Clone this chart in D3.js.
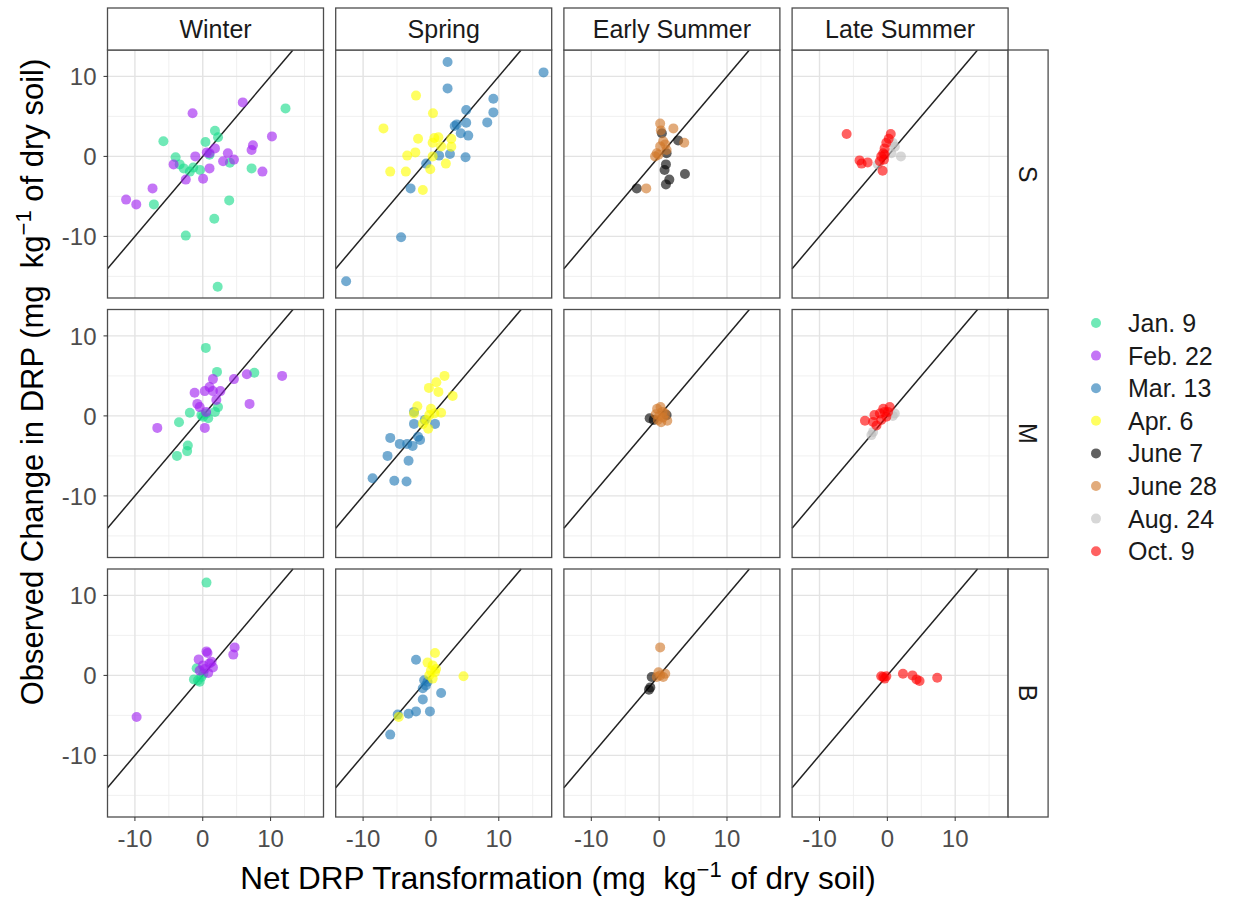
<!DOCTYPE html>
<html><head><meta charset="utf-8">
<script src="https://cdn.jsdelivr.net/npm/d3@7"></script>
<style>body{margin:0;background:#fff}svg{display:block}</style>
</head><body><svg id="c" width="1239" height="898"></svg>
<script>
const seasons = ["Winter", "Spring", "Early Summer", "Late Summer"];
const sites = ["S", "M", "B"];
const dates = ["Jan. 9", "Feb. 22", "Mar. 13", "Apr. 6", "June 7", "June 28", "Aug. 24", "Oct. 9"];
const dateSeason = ["Winter", "Winter", "Spring", "Spring", "Early Summer", "Early Summer", "Late Summer", "Late Summer"];
const dateColors = ["#19DB8A", "#A020F0", "#1F78B4", "#FFFF00", "#000000", "#D0782A", "#BEBEBE", "#FF0000"];
const xTicks = [-10, 0, 10];
const yTicks = [-10, 0, 10];
const xMinor = [-5, 5, 15];
const yMinor = [-15, -5, 5];
const xDomain = [-14.04, 17.8];
const yDomain = [-17.7, 13.3];

// [site, net transformation, observed change]
const jan9 = [
  ["S",12.2,6.0],["S",1.8,3.2],["S",2.25,2.4],["S",-5.8,1.9],["S",0.4,1.8],["S",-4.0,-0.1],["S",-3.4,-1.0],
  ["S",-2.8,-1.5],["S",-1.4,-1.4],["S",-0.4,-1.7],["S",1.0,0.2],["S",4.0,-0.8],["S",7.2,-1.5],["S",-7.2,-6.0],
  ["S",3.9,-5.5],["S",1.7,-7.8],["S",-2.5,-9.9],["S",2.2,-16.3],["S",-1.9,-1.9],
  ["M",0.45,8.5],["M",7.6,5.4],["M",2.1,5.5],["M",2.25,1.1],["M",1.8,0.5],["M",-1.9,0.4],["M",0.05,-0.1],
  ["M",0.8,-0.3],["M",-3.5,-0.8],["M",-2.2,-3.7],["M",-2.3,-4.4],["M",-3.8,-5.0],["M",-0.2,0.1],["M",0.5,0.3],
  ["B",0.55,11.6],["B",-1.3,-0.5],["B",-0.7,-0.6],["B",-0.45,-0.8],["B",-0.9,0.9],["B",-0.2,-0.2],["B",0.1,0.2]
];
const feb22 = [
  ["S",5.9,6.75],["S",-1.5,5.4],["S",10.2,2.5],["S",7.4,1.4],["S",7.2,0.8],["S",1.8,1.0],["S",0.6,0.5],
  ["S",1.0,0.4],["S",3.7,0.4],["S",-1.1,0.0],["S",3.0,-0.6],["S",4.6,-0.4],["S",-4.3,-1.0],["S",1.0,-1.5],
  ["S",8.8,-1.9],["S",-2.5,-2.9],["S",0.05,-2.8],["S",-7.4,-4.0],["S",-11.3,-5.4],["S",-9.8,-6.0],
  ["M",11.7,5.0],["M",6.5,5.2],["M",4.6,4.6],["M",1.5,4.6],["M",1.0,3.6],["M",-1.2,2.9],["M",0.3,3.1],
  ["M",1.5,3.1],["M",2.6,3.1],["M",2.0,2.0],["M",-0.8,1.5],["M",-0.45,1.1],["M",0.5,0.5],["M",6.9,1.5],
  ["M",-6.7,-1.5],["M",0.3,-1.5],
  ["B",4.7,3.5],["B",4.5,2.6],["B",0.55,3.0],["B",0.7,2.8],["B",-0.6,2.0],["B",1.0,1.5],["B",1.5,1.0],
  ["B",0.3,0.8],["B",0.8,0.3],["B",-0.45,0.6],["B",-9.75,-5.2],["B",1.3,1.7],["B",0.05,1.25]
];
const mar13 = [
  ["S",2.45,11.8],["S",16.6,10.5],["S",2.45,8.5],["S",9.2,7.2],["S",9.2,5.5],["S",5.2,5.8],["S",8.3,4.25],
  ["S",5.2,4.2],["S",3.8,4.0],["S",3.5,3.8],["S",4.4,2.9],["S",5.5,2.6],["S",2.8,0.3],["S",1.2,0.1],
  ["S",5.1,-0.1],["S",-0.7,-0.9],["S",-3.0,-4.0],["S",-4.4,-10.1],["S",-12.5,-15.6],
  ["M",-2.5,0.5],["M",-2.5,-1.0],["M",-0.9,-0.5],["M",0.6,-1.0],["M",-6.0,-2.75],["M",-1.9,-2.6],["M",-4.6,-3.5],
  ["M",-3.5,-3.5],["M",-2.7,-3.75],["M",-1.6,-3.0],["M",-6.4,-5.0],["M",-3.3,-5.6],["M",-8.6,-7.8],["M",-5.4,-8.1],
  ["M",-3.6,-8.2],
  ["B",-2.2,1.96],["B",-1.0,-0.6],["B",-1.2,-1.6],["B",-0.75,-1.25],["B",1.5,-2.2],["B",-1.2,-3.0],["B",-2.2,-4.5],
  ["B",-3.3,-4.8],["B",-0.15,-4.5],["B",-4.9,-4.9],["B",-6.0,-7.4],["B",-0.5,-0.8]
];
const apr6 = [
  ["S",-2.2,7.6],["S",0.3,5.4],["S",-7.0,3.5],["S",-1.9,2.2],["S",0.5,2.3],["S",1.1,2.4],["S",0.25,1.7],
  ["S",1.5,1.25],["S",3.0,2.2],["S",3.0,1.2],["S",-2.3,0.5],["S",-3.5,0.1],["S",0.25,0.0],["S",2.2,-0.9],
  ["S",-6.0,-1.9],["S",-3.7,-1.9],["S",-0.1,-1.6],["S",-1.2,-4.2],
  ["M",2.0,5.0],["M",0.8,4.2],["M",-0.3,3.5],["M",1.1,3.0],["M",3.2,2.5],["M",-2.0,1.2],["M",0.0,0.9],
  ["M",1.5,0.4],["M",-0.25,0.1],["M",-0.7,-0.5],["M",-1.2,-1.0],["M",-0.4,-1.6],["M",0.5,0.3],["M",-2.5,0.3],
  ["B",0.6,2.8],["B",-0.5,1.6],["B",0.25,1.25],["B",0.0,0.6],["B",0.6,0.4],["B",-0.25,0.0],["B",0.25,-0.4],
  ["B",4.8,-0.1],["B",-4.75,-5.2],["B",0.75,0.8]
];
const june7 = [
  ["S",2.8,2.0],["S",1.0,-1.0],["S",0.8,-1.7],["S",3.8,-2.2],["S",1.5,-2.9],["S",1.0,-3.5],["S",-3.3,-4.0],
  ["S",0.4,2.9],["S",1.1,0.4],
  ["M",-1.4,-0.3],["M",1.1,0.1],["M",-0.8,-0.5],
  ["B",-1.1,-0.2],["B",-1.5,-1.8],["B",-1.3,-1.5]
];
const june28 = [
  ["S",0.15,4.1],["S",0.25,3.25],["S",2.1,3.5],["S",3.7,1.7],["S",0.6,1.9],["S",0.15,1.25],["S",-0.35,0.4],
  ["S",-0.6,0.0],["S",1.1,0.8],["S",-1.9,-4.0],["S",-0.1,0.2],["S",0.9,1.5],
  ["M",-0.3,0.9],["M",0.2,1.1],["M",0.5,0.5],["M",0.0,0.0],["M",-0.2,-0.5],["M",0.3,-0.8],["M",1.2,-0.6],
  ["M",0.9,0.3],["M",-0.5,0.2],["M",0.6,-0.2],
  ["B",0.15,3.5],["B",0.15,0.0],["B",-0.1,0.4],["B",0.6,-0.2],["B",-0.35,-0.2],["B",0.9,0.2]
];
const aug24 = [
  ["S",2.0,0.0],["S",1.1,1.2],["S",0.8,1.7],["S",-1.4,-1.0],["S",0.6,0.4],
  ["M",-2.35,-2.4],["M",0.8,0.0],["M",-2.1,-2.0],["M",1.1,0.3]
];
const oct9 = [
  ["S",-6.0,2.8],["S",-4.1,-0.5],["S",-3.8,-0.9],["S",-2.9,-0.75],["S",0.5,2.8],["S",0.2,2.2],["S",-0.15,1.7],
  ["S",-0.4,1.0],["S",-0.6,0.4],["S",-0.9,0.0],["S",-0.5,-0.4],["S",-1.1,-0.6],["S",-0.7,-1.8],["S",-0.4,0.2],
  ["M",-3.3,-0.6],["M",-1.9,0.1],["M",-1.1,0.3],["M",0.35,1.1],["M",-0.4,0.5],["M",-1.6,-1.2],["M",-0.9,-0.5],
  ["M",-0.15,-0.1],["M",-2.1,-0.75],["M",0.1,0.5],["M",-0.6,0.9],
  ["B",-0.6,-0.2],["B",-0.15,-0.1],["B",-0.9,-0.1],["B",-0.4,-0.4],["B",2.3,0.2],["B",3.7,0.0],["B",4.3,-0.5],
  ["B",4.75,-0.7],["B",7.35,-0.3]
];
const seriesByDate = [jan9, feb22, mar13, apr6, june7, june28, aug24, oct9];

const svg = d3.select("#c");
const font = "'Liberation Sans', Arial, Helvetica, sans-serif";
const panelW = 216, panelH = 248;
const colX = d3.scalePoint().domain(seasons).range([107.5, 107.5 + 3 * 228.2]);
const rowY = d3.scalePoint().domain(sites).range([50, 50 + 2 * 259.5]);
const x = d3.scaleLinear().domain(xDomain).range([0, panelW]);
const y = d3.scaleLinear().domain(yDomain).range([panelH, 0]);
const color = d3.scaleOrdinal().domain(dates).range(dateColors);
const borderCol = "#4d4d4d";

seasons.forEach((s, ci) => {
  sites.forEach((site, ri) => {
    const g = svg.append("g").attr("transform", `translate(${colX(s)},${rowY(site)})`);
    g.append("rect").attr("width", panelW).attr("height", panelH).attr("fill", "#fff");
    g.selectAll(".mx").data(xMinor).join("line")
      .attr("x1", d => x(d)).attr("x2", d => x(d)).attr("y1", 0).attr("y2", panelH)
      .attr("stroke", "#eeeeee").attr("stroke-width", 0.9);
    g.selectAll(".my").data(yMinor).join("line")
      .attr("y1", d => y(d)).attr("y2", d => y(d)).attr("x1", 0).attr("x2", panelW)
      .attr("stroke", "#eeeeee").attr("stroke-width", 0.9);
    g.selectAll(".gx").data(xTicks).join("line")
      .attr("x1", d => x(d)).attr("x2", d => x(d)).attr("y1", 0).attr("y2", panelH)
      .attr("stroke", "#e3e3e3").attr("stroke-width", 1.4);
    g.selectAll(".gy").data(yTicks).join("line")
      .attr("y1", d => y(d)).attr("y2", d => y(d)).attr("x1", 0).attr("x2", panelW)
      .attr("stroke", "#e3e3e3").attr("stroke-width", 1.4);
    const lo = Math.max(xDomain[0], yDomain[0]), hi = Math.min(xDomain[1], yDomain[1]);
    g.append("line").attr("x1", x(lo)).attr("y1", y(lo)).attr("x2", x(hi)).attr("y2", y(hi))
      .attr("stroke", "#222").attr("stroke-width", 1.5);
    dates.forEach((d, di) => {
      if (dateSeason[di] !== s) return;
      const pts = seriesByDate[di].filter(p => p[0] === site);
      g.selectAll(null).data(pts).join("circle")
        .attr("cx", p => x(p[1])).attr("cy", p => y(p[2])).attr("r", 5)
        .attr("fill", color(d)).attr("fill-opacity", 0.62);
    });
    g.append("rect").attr("width", panelW).attr("height", panelH)
      .attr("fill", "none").attr("stroke", borderCol).attr("stroke-width", 1.3);
    if (ci === 0) {
      yTicks.forEach(t => {
        g.append("line").attr("x1", -4).attr("x2", 0).attr("y1", y(t)).attr("y2", y(t)).attr("stroke", "#333").attr("stroke-width", 1);
        g.append("text").attr("x", -11).attr("y", y(t)).attr("dy", "0.36em").attr("text-anchor", "end")
          .attr("font-family", font).attr("font-size", 24).attr("fill", "#4d4d4d").text(t);
      });
    }
    if (ri === sites.length - 1) {
      xTicks.forEach(t => {
        g.append("line").attr("y1", panelH).attr("y2", panelH + 4).attr("x1", x(t)).attr("x2", x(t)).attr("stroke", "#333").attr("stroke-width", 1);
        g.append("text").attr("x", x(t)).attr("y", panelH + 30).attr("text-anchor", "middle")
          .attr("font-family", font).attr("font-size", 24).attr("fill", "#4d4d4d").text(t);
      });
    }
    if (ri === 0) {
      g.append("rect").attr("x", 0).attr("y", -42).attr("width", panelW).attr("height", 42)
        .attr("fill", "#fff").attr("stroke", borderCol).attr("stroke-width", 1.3);
      g.append("text").attr("x", panelW / 2).attr("y", -21).attr("dy", "0.36em").attr("text-anchor", "middle")
        .attr("font-family", font).attr("font-size", 25).attr("fill", "#1a1a1a").text(s);
    }
    if (ci === seasons.length - 1) {
      g.append("rect").attr("x", panelW).attr("y", 0).attr("width", 40).attr("height", panelH)
        .attr("fill", "#fff").attr("stroke", borderCol).attr("stroke-width", 1.3);
      g.append("text").attr("transform", `translate(${panelW + 20},${panelH / 2}) rotate(90)`)
        .attr("dy", "0.36em").attr("text-anchor", "middle")
        .attr("font-family", font).attr("font-size", 25).attr("fill", "#1a1a1a").text(site);
    }
  });
});

const xt = svg.append("text").attr("x", 558).attr("y", 889).attr("text-anchor", "middle")
  .attr("font-family", font).attr("font-size", 31.5).attr("fill", "#000");
xt.append("tspan").text("Net DRP Transformation (mg\u00a0 kg");
xt.append("tspan").attr("dy", -12).attr("font-size", 22).text("\u22121");
xt.append("tspan").attr("dy", 12).text(" of dry soil)");

const yt = svg.append("text").attr("transform", "translate(43,382) rotate(-90)").attr("text-anchor", "middle")
  .attr("font-family", font).attr("font-size", 31).attr("fill", "#000");
yt.append("tspan").text("Observed Change in DRP (mg\u00a0 kg");
yt.append("tspan").attr("dy", -12).attr("font-size", 22).text("\u22121");
yt.append("tspan").attr("dy", 12).text(" of dry soil)");

const leg = svg.append("g").attr("transform", "translate(1096,323)");
dates.forEach((d, i) => {
  const r = leg.append("g").attr("transform", `translate(0,${i * 32.6})`);
  r.append("circle").attr("r", 5).attr("fill", color(d)).attr("fill-opacity", 0.62);
  r.append("text").attr("x", 32).attr("dy", "0.36em").attr("font-family", font).attr("font-size", 25)
    .attr("fill", "#1a1a1a").text(d);
});
</script></body></html>
